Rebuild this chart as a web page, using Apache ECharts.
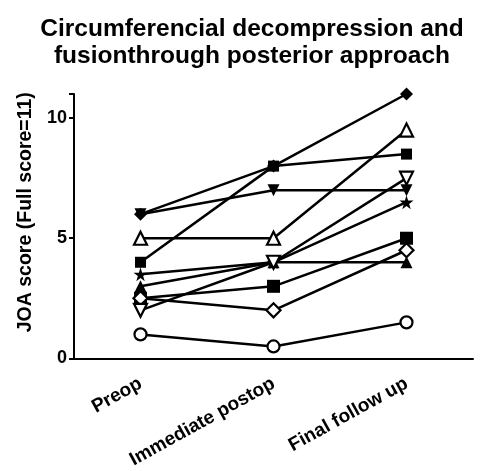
<!DOCTYPE html>
<html>
<head>
<meta charset="utf-8">
<script src="https://cdn.jsdelivr.net/npm/echarts@6/dist/echarts.min.js"></script>
<style>
  html, body { margin: 0; padding: 0; background: #fff; }
  #chart { width: 480px; height: 471px; }
</style>
</head>
<body>
<div id="chart"></div>
<script>
// categories on the x axis
var categories = ['Preop', 'Immediate postop', 'Final follow up'];
var yTicks = [0, 5, 10];

// one array per patient, JOA score at each stage
var filledDiamond = [6, 8, 11];
var filledDownTriangle = [6, 7, 7];
var openTriangle = [5, 5, 9.5];
var filledSquareHigh = [4, 8, 8.5];
var filledStar = [3.5, 4, 6.5];
var filledTriangle = [3, 4, 4];
var filledSquareLow = [2.5, 3, 5];
var openDiamond = [2.5, 2, 4.5];
var openDownTriangle = [2, 4, 7.5];
var openCircle = [1, 0.5, 1.5];

var starPath = 'path://M50,0 L61,35 L98,35 L68,57 L79,91 L50,70 L21,91 L32,57 L2,35 L39,35 Z';

function makeSeries(data, symbol, open, rotate, size) {
  return {
    type: 'line',
    data: data,
    symbol: symbol,
    symbolSize: size || 12,
    symbolRotate: rotate || 0,
    showAllSymbol: true,
    lineStyle: { color: '#000', width: 2.5 },
    itemStyle: open
      ? { color: '#fff', borderColor: '#000', borderWidth: 2.2 }
      : { color: '#000', borderColor: '#000', borderWidth: 0 },
    emphasis: { disabled: true },
    z: open ? 3 : 2
  };
}

var chart = echarts.init(document.getElementById('chart'));
var font = 'Liberation Sans, Arial, sans-serif';

chart.setOption({
  backgroundColor: '#fff',
  animation: false,
  title: {
    text: 'Circumferencial decompression and\nfusionthrough posterior approach',
    left: 247,
    textAlign: 'center',
    top: 11,
    textStyle: {
      fontFamily: font, fontWeight: 'bold', fontSize: 24.5, lineHeight: 27, color: '#000', align: 'center'
    }
  },
  grid: { left: 74, right: 7, top: 94, bottom: 111 },
  xAxis: {
    type: 'category',
    data: categories,
    boundaryGap: true,
    axisLine: { lineStyle: { color: '#000', width: 2 } },
    axisTick: { alignWithLabel: true, length: 5, lineStyle: { color: '#000', width: 2 } },
    axisLabel: {
      rotate: 29, margin: 24, color: '#000',
      fontFamily: font, fontWeight: 'bold', fontSize: 19
    },
    splitLine: { show: false }
  },
  yAxis: {
    type: 'value',
    min: 0,
    max: 11,
    interval: 5,
    name: 'JOA score (Full score=11)',
    nameLocation: 'middle',
    nameGap: 38,
    nameTextStyle: {
      fontFamily: font, fontWeight: 'bold', fontSize: 19.5, color: '#000',
      padding: [0, 0, 0, 28]
    },
    axisLine: { show: true, lineStyle: { color: '#000', width: 2 } },
    axisTick: { show: true, length: 5, lineStyle: { color: '#000', width: 2 } },
    axisLabel: {
      margin: 7, color: '#000', fontFamily: font, fontWeight: 'bold', fontSize: 18,
      formatter: function (v) { return yTicks.indexOf(v) >= 0 ? String(v) : ''; }
    },
    splitLine: { show: false }
  },
  series: [
    makeSeries(filledDiamond, 'diamond', false, 0, 13),
    makeSeries(filledDownTriangle, 'triangle', false, 180, 12),
    makeSeries(openTriangle, 'triangle', true, 0, 13),
    makeSeries(filledSquareHigh, 'rect', false, 0, 11),
    makeSeries(filledStar, starPath, false, 0, 14),
    makeSeries(filledTriangle, 'triangle', false, 0, 12),
    makeSeries(filledSquareLow, 'rect', false, 0, 13),
    makeSeries(openDiamond, 'diamond', true, 0, 14),
    makeSeries(openDownTriangle, 'triangle', true, 180, 13),
    makeSeries(openCircle, 'circle', true, 0, 12)
  ]
});
</script>
</body>
</html>
